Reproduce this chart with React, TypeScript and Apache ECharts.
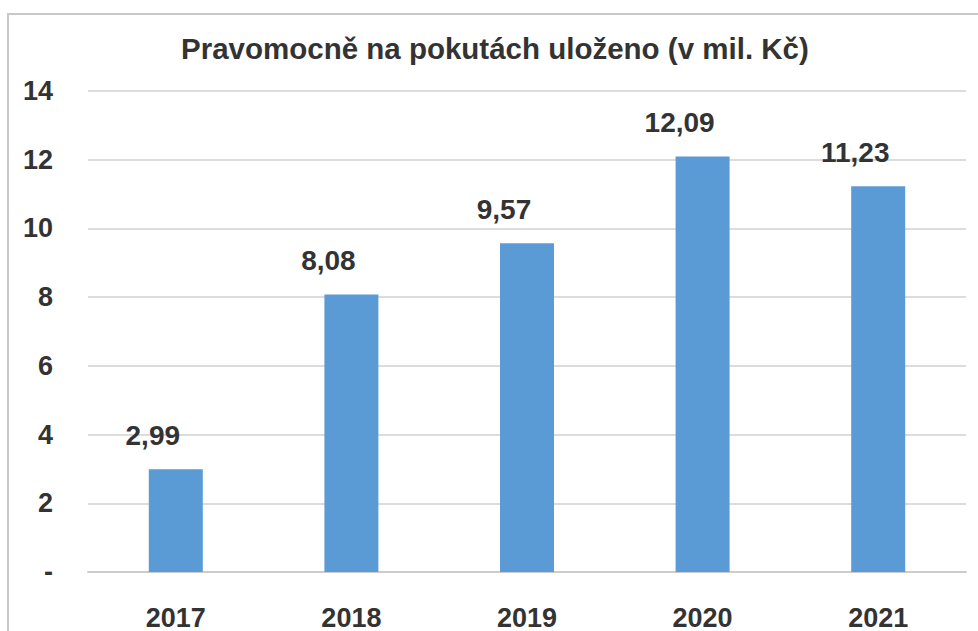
import React, { useEffect, useRef } from "react";
import * as echarts from "echarts";

const title = "Pravomocně na pokutách uloženo (v mil. Kč)";
const years = ["2017", "2018", "2019", "2020", "2021"];
const values = [2.99, 8.08, 9.57, 12.09, 11.23];
const valueLabels = ["2,99", "8,08", "9,57", "12,09", "11,23"];

export default function App() {
  const ref = useRef<HTMLDivElement>(null);
  useEffect(() => {
    const chart = echarts.init(ref.current!, null, { renderer: "svg" });
    const font = "'Liberation Sans', Arial, sans-serif";
    chart.setOption({
      animation: false,
      backgroundColor: "#ffffff",
      title: {
        text: title,
        left: 176,
        top: 28,
        textStyle: { fontFamily: font, fontSize: 29.5, fontWeight: "bold", color: "#333333" },
      },
      graphic: [
        {
          type: "rect",
          shape: { x: 8, y: 14, width: 1200, height: 1200 },
          style: { fill: "none", stroke: "#c8c8c8", lineWidth: 2 },
          silent: true,
        },
      ],
      grid: { left: 88, right: 12, top: 91, bottom: 58, containLabel: false },
      xAxis: {
        type: "category",
        data: years,
        axisLine: { show: true, lineStyle: { color: "#cccccc", width: 2 } },
        axisTick: { show: false },
        axisLabel: {
          margin: 32,
          fontFamily: font,
          fontSize: 27,
          fontWeight: "bold",
          color: "#333333",
        },
      },
      yAxis: {
        type: "value",
        min: 0,
        max: 14,
        interval: 2,
        axisLine: { show: false },
        axisTick: { show: false },
        splitLine: { lineStyle: { color: "#d0d0d0", width: 1.5 } },
        axisLabel: {
          margin: 35,
          fontFamily: font,
          fontSize: 27,
          fontWeight: "bold",
          color: "#333333",
          formatter: (v: number) => (v === 0 ? "-" : String(v)),
        },
      },
      series: [
        {
          type: "bar",
          data: values,
          barWidth: 54,
          itemStyle: { color: "#5B9BD5" },
          label: {
            show: true,
            position: "top",
            distance: 20,
            offset: [-23, 0],
            fontFamily: font,
            fontSize: 28,
            fontWeight: "bold",
            color: "#333333",
            formatter: (p: any) => valueLabels[p.dataIndex],
          },
        },
      ],
    });
    return () => chart.dispose();
  }, []);
  return (
    <div
      ref={ref}
      style={{ position: "fixed", left: 0, top: 0, width: 978, height: 631 }}
    />
  );
}
